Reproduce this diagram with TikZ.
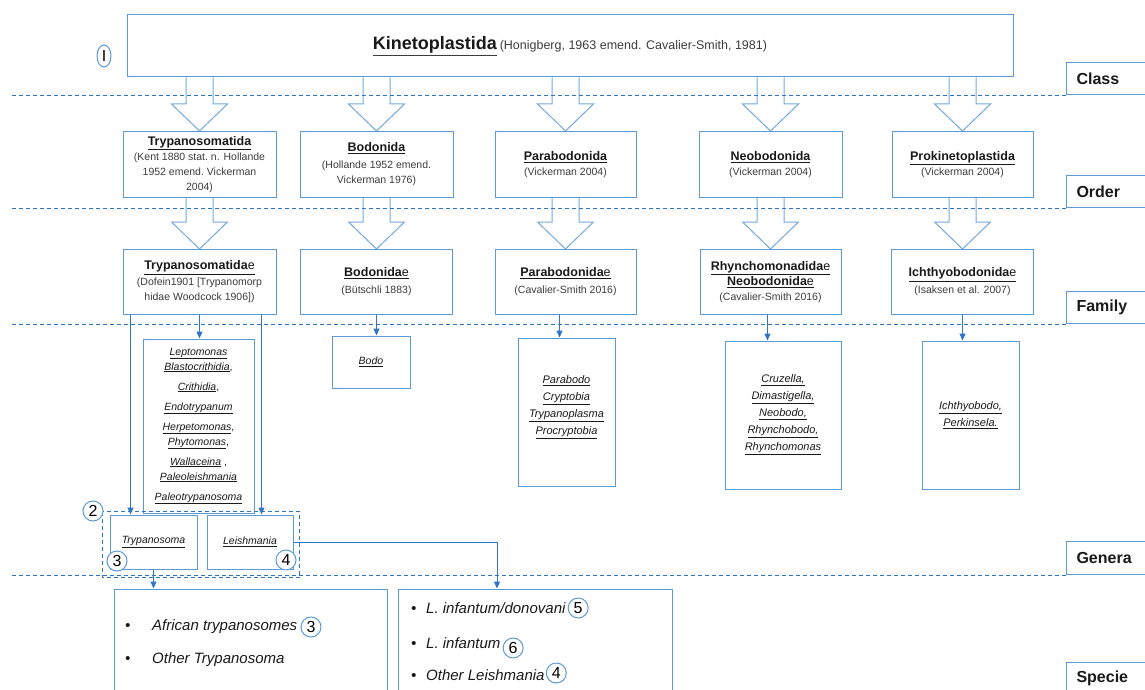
\documentclass[tikz,border=0pt]{standalone}
\usepackage{fontspec}
\setmainfont{Liberation Sans}
\usetikzlibrary{positioning,arrows.meta,calc,shapes.geometric}

\definecolor{boxblue}{RGB}{91,155,213}
\definecolor{linkblue}{RGB}{46,117,200}
\definecolor{txt}{RGB}{25,25,25}
\definecolor{subtxt}{RGB}{60,60,60}

\newcommand{\gn}[1]{\underline{\textit{#1}}}
\newcommand{\ttl}[1]{{\fontsize{12.5}{15}\selectfont\bfseries\color{txt}#1}}

\tikzset{
  box/.style={draw=boxblue, line width=1pt, rectangle, inner sep=2pt, align=center, text=subtxt},
  ordbox/.style={box, minimum height=66pt, font=\fontsize{10.5}{15}\selectfont},
  genbox/.style={box, text=txt, font=\fontsize{11}{17}\selectfont},
  rankbox/.style={draw=boxblue, line width=1pt, anchor=north west, minimum height=32pt,
    text width=75pt, inner xsep=10pt, align=left, text=txt, font=\fontsize{16}{18}\selectfont\bfseries},
  level/.style={draw=linkblue, dash pattern=on 4pt off 3pt, line width=0.9pt},
  link/.style={draw=linkblue, line width=1pt, -{Triangle[length=7pt,width=6pt]}},
  hollow/.style={draw=boxblue!85, fill=white, line width=1pt, line join=miter},
  cnum/.style={circle, draw=boxblue, fill=white, line width=1pt, minimum size=20pt,
    inner sep=0pt, text=black, font=\fontsize{16}{16}\selectfont},
  item/.style={anchor=west, inner sep=0pt, text=txt, font=\fontsize{15}{18}\selectfont\itshape}
}

% hollow block arrow from one rank box down to the next
\newcommand{\bigarrow}[2]{%
  \draw[hollow] let \p1=(#1.south), \p2=(#2.north) in
    (\x2-13.5pt,\y1) -- (\x2-13.5pt,\y2+27pt) -- (\x2-28pt,\y2+27pt) -- (\x2,\y2)
    -- (\x2+28pt,\y2+27pt) -- (\x2+13.5pt,\y2+27pt) -- (\x2+13.5pt,\y1);}

\begin{document}
\begin{tikzpicture}[x=1pt,y=-1pt]
\useasboundingbox (0,0) rectangle (1145,690);

% class
\node[box, minimum width=886pt, minimum height=62pt] (kin) at (570,46)
  {\underline{{\fontsize{18}{20}\selectfont\bfseries\color{txt}Kinetoplastida}}\ \fontsize{12.5}{15}\selectfont(Honigberg, 1963 emend. Cavalier-Smith, 1981)};
\node[cnum, ellipse, minimum width=14pt, minimum height=22pt] (c1) at (104,56) {I};

% order
\node[ordbox, minimum width=153pt] (ord1) at (199.5,164.5)
  {\ttl{\underline{Trypanosomatida}}\\(Kent 1880 stat.\ n. Hollande\\1952 emend.\ Vickerman\\2004)};
\node[ordbox, minimum width=153pt] (ord2) at (376.5,164.5)
  {\ttl{\underline{Bodonida}}\\[2pt](Hollande 1952 emend.\\Vickerman 1976)};
\node[ordbox, minimum width=141pt] (ord3) at (565.5,164.5)
  {\ttl{\underline{Parabodonida}}\\(Vickerman 2004)};
\node[ordbox, minimum width=143pt] (ord4) at (770.5,164.5)
  {\ttl{\underline{Neobodonida}}\\(Vickerman 2004)};
\node[ordbox, minimum width=141pt] (ord5) at (962.5,164.5)
  {\ttl{\underline{Prokinetoplastida}}\\(Vickerman 2004)};

% family
\node[ordbox, minimum width=153pt, minimum height=65pt] (fam1) [below=51pt of ord1]
  {\ttl{\underline{Trypanosomatida{\mdseries e}}}\\[1pt](Dofein1901 [Trypanomorp\\hidae Woodcock 1906])};
\node[ordbox, minimum width=152pt, minimum height=65pt] (fam2) [below=51pt of ord2]
  {\ttl{\underline{Bodonida{\mdseries e}}}\\[2pt](B\"utschli 1883)};
\node[ordbox, minimum width=141pt, minimum height=65pt] (fam3) [below=51pt of ord3]
  {\ttl{\underline{Parabodonida{\mdseries e}}}\\[2pt](Cavalier-Smith 2016)};
\node[ordbox, minimum width=141pt, minimum height=65pt] (fam4) [below=51pt of ord4]
  {\ttl{\underline{Rhynchomonadida{\mdseries e}}}\\\ttl{\underline{Neobodonida{\mdseries e}}}\\(Cavalier-Smith 2016)};
\node[ordbox, minimum width=142pt, minimum height=65pt] (fam5) [below=51pt of ord5]
  {\ttl{\underline{Ichthyobodonida{\mdseries e}}}\\[2pt](Isaksen et al. 2007)};

\bigarrow{kin}{ord1}
\bigarrow{kin}{ord2}
\bigarrow{kin}{ord3}
\bigarrow{kin}{ord4}
\bigarrow{kin}{ord5}
\bigarrow{ord1}{fam1}
\bigarrow{ord2}{fam2}
\bigarrow{ord3}{fam3}
\bigarrow{ord4}{fam4}
\bigarrow{ord5}{fam5}

% genera
\node[genbox, minimum width=111pt, minimum height=174pt, font=\fontsize{10.5}{15}\selectfont] (lepto) at (198.5,426)
  {\gn{Leptomonas}\\\gn{Blastocrithidia},\\[5pt]\gn{Crithidia},\\[5pt]\gn{Endotrypanum}\\[5pt]
   \gn{Herpetomonas},\\\gn{Phytomonas},\\[5pt]\gn{Wallaceina} ,\\\gn{Paleoleishmania}\\[5pt]\gn{Paleotrypanosoma}};
\node[genbox, minimum width=78pt, minimum height=52pt, font=\fontsize{10.5}{15}\selectfont] (bodo) at (371,362) {\gn{Bodo}};
\node[genbox, minimum width=97pt, minimum height=148pt] (parab) at (566.5,412)
  {\gn{Parabodo}\\\gn{Cryptobia}\\\gn{Trypanoplasma}\\\gn{Procryptobia}\\[-4pt]{}};
\node[genbox, minimum width=116pt, minimum height=148pt] (cruz) at (783,415)
  {\gn{Cruzella,}\\\gn{Dimastigella,}\\\gn{Neobodo,}\\\gn{Rhynchobodo,}\\\gn{Rhynchomonas}};
\node[genbox, minimum width=97pt, minimum height=148pt] (ichth) at (970.5,415)
  {\gn{Ichthyobodo,}\\\gn{Perkinsela.}};
\node[genbox, minimum width=87pt, minimum height=54pt, font=\fontsize{10.5}{15}\selectfont] (tryp) at (153.5,542) {\gn{Trypanosoma}};
\node[genbox, minimum width=86pt, minimum height=54pt, font=\fontsize{10.5}{15}\selectfont] (leish) at (250,542) {\gn{Leishmania}};
\draw[level, line width=0.8pt] ([xshift=-7pt,yshift=3pt]tryp.north west) rectangle ([xshift=6pt,yshift=-8pt]leish.south east);
\node[cnum] (c2) at (93,511) {2};
\node[cnum] (c3) at (117,561) {3};
\node[cnum] (c4) at (286,560) {4};

\draw[link] ([xshift=8pt]fam1.south west) -- ([xshift=8pt]fam1.south west |- tryp.north);
\draw[link] (fam1.south) -- (fam1.south |- lepto.north);
\draw[link] ([xshift=-15pt]fam1.south east) -- ([xshift=-15pt]fam1.south east |- leish.north);
\draw[link] (fam2.south) -- (fam2.south |- bodo.north);
\draw[link] ([xshift=-6pt]fam3.south) -- ([xshift=-6pt]fam3.south |- parab.north);
\draw[link] ([xshift=-3pt]fam4.south) -- ([xshift=-3pt]fam4.south |- cruz.north);
\draw[link] (fam5.south) -- (fam5.south |- ichth.north);

% species
\node[box, minimum width=273pt, minimum height=122pt] (tspec) at (250.5,650) {};
\node[box, minimum width=274pt, minimum height=122pt] (lspec) at (535,650) {};
\draw[link] (tryp.south) -- (tryp.south |- tspec.north);
\draw[link] (leish.east) -| ([xshift=-38pt]lspec.north);

\node[item] (afr) at (122,627) {\makebox[30pt][l]{\hspace{3pt}\textbullet}African trypanosomes};
\node[cnum, right=3pt of afr] (c3b) {3};
\node[item] (otr) at (122,660) {\makebox[30pt][l]{\hspace{3pt}\textbullet}Other Trypanosoma};
\node[item] (ldon) at (409,608) {\makebox[17pt][l]{\hspace{2pt}\textbullet}L. infantum/donovani};
\node[cnum, right=2pt of ldon] (c5) {5};
\node[item] (linf) at (409,643) {\makebox[17pt][l]{\hspace{2pt}\textbullet}L. infantum};
\node[cnum, right=2pt of linf, yshift=-5pt] (c6) {6};
\node[item] (olei) at (409,675) {\makebox[17pt][l]{\hspace{2pt}\textbullet}Other Leishmania};
\node[cnum, right=1pt of olei, yshift=2pt] (c4b) {4};

% ranks
\node[rankbox] (cls) at (1066,62) {Class};
\node[rankbox] (ordr) at (1066,175) {Order};
\node[rankbox] (fmly) at (1066,291) {Family};
\node[rankbox, minimum height=33pt] (gnra) at (1066,541) {Genera};
\node[rankbox] (spcs) at (1066,662) {Specie};
\draw[level] (cls.south west) -- ++(-1056,0);
\draw[level] (ordr.south west) -- ++(-1056,0);
\draw[level] (fmly.south west) -- ++(-1056,0);
\draw[level] (gnra.south west) -- ++(-1056,0);
\end{tikzpicture}
\end{document}
